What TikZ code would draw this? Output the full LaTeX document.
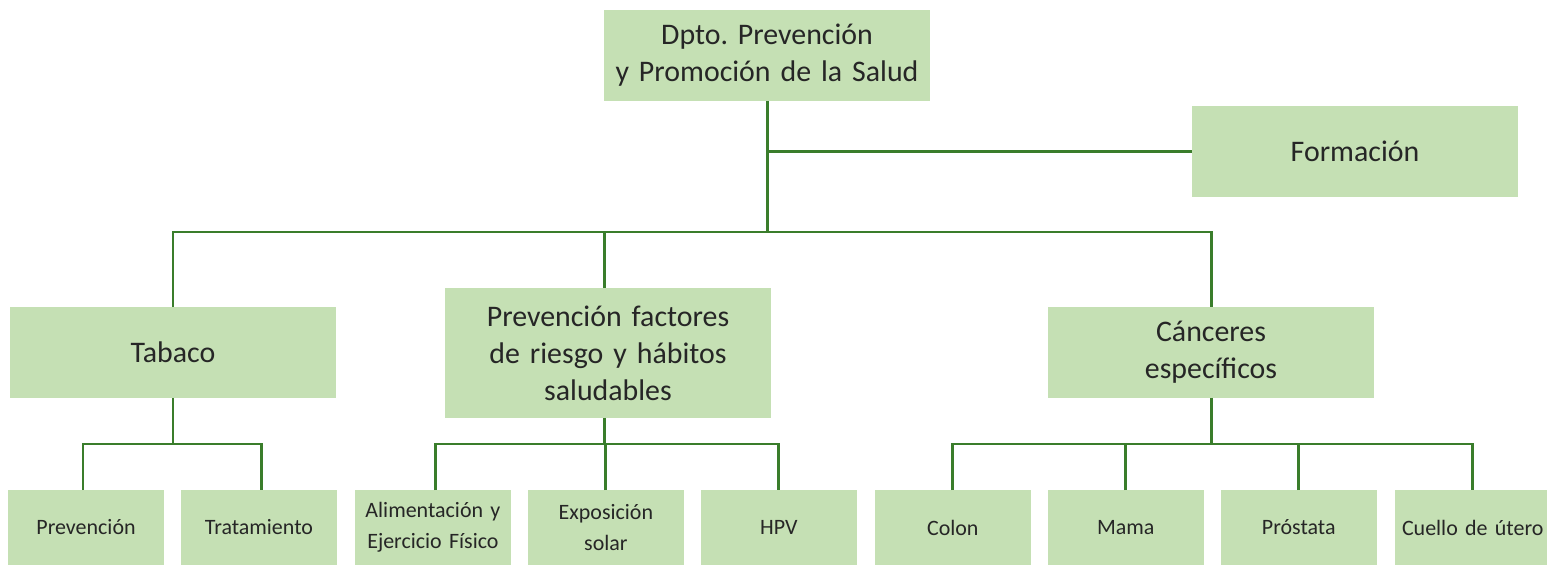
\documentclass[tikz,border=0pt]{standalone}
\usepackage{fontspec}
\setmainfont{Carlito}
\usetikzlibrary{positioning}
\definecolor{boxgreen}{HTML}{C5E0B4}
\definecolor{linegreen}{HTML}{3A7D2B}
\definecolor{textgray}{HTML}{262626}
\tikzset{
    % big boxes of the upper levels
    area/.style={
           rectangle,
           fill=boxgreen,
           text=textgray,
           outer sep=0pt,
           inner xsep=0pt,
           minimum width=6.52cm,
           minimum height=1.82cm,
           text width=6.52cm,
           align=center,
           font=\fontsize{17}{21}\selectfont},
    % small boxes of the bottom row
    unit/.style={
           rectangle,
           fill=boxgreen,
           text=textgray,
           outer sep=0pt,
           inner xsep=0pt,
           minimum width=3.12cm,
           minimum height=1.5cm,
           text width=3.12cm,
           align=center,
           font=\fontsize{12.5}{17.5}\selectfont},
    % connector lines
    link/.style={
           draw=linegreen,
           line width=1.7pt}
}
\frenchspacing
\begin{document}
\begin{tikzpicture}[x=0.02cm, y=-0.02cm]
    \useasboundingbox (0,0) rectangle (1547,565);
    % upper levels
    \node[area] (dpto) at (767,55.5) {Dpto. Prevención\\y Promoción de la Salud};
    \node[area] (formacion) at (1355,151.5) {Formación};
    \node[area] (tabaco) at (173,352.5) {Tabaco};
    \node[area, minimum height=2.6cm] (factores) at (608,353)
        {Prevención factores\\de riesgo y hábitos\\saludables};
    \node[area] (canceres) at (1211,352.5) {Cánceres\\específicos};
    % bottom row
    \node[unit] (prevencion) at (86,527.5) {Prevención};
    \node[unit, right=0.34cm of prevencion] (tratamiento) {Tratamiento};
    \node[unit, right=0.36cm of tratamiento] (alimentacion) {Alimentación y\\Ejercicio Físico};
    \node[unit, right=0.34cm of alimentacion] (exposicion) {Exposición\\solar};
    \node[unit, right=0.34cm of exposicion] (hpv) {HPV};
    \node[unit, right=0.36cm of hpv] (colon) {Colon};
    \node[unit, right=0.34cm of colon] (mama) {Mama};
    \node[unit, right=0.34cm of mama] (prostata) {Próstata};
    \node[unit, right=0.36cm of prostata] (cuello) {Cuello de útero};
    % connectors
    \coordinate (bus) at (766,232);
    \draw[link] (dpto.south) -- (dpto.south |- bus);
    \draw[link] (dpto.south |- formacion.west) -- (formacion.west);
    \draw[link] (tabaco.north) |- (bus) -| (canceres.north);
    \draw[link] (factores.north) ++(-4,0) -- ++(0,-56);
    \draw[link] (tabaco.south) -- ++(0,46) coordinate (tabbus);
    \draw[link] (prevencion.north) ++(-3,0) |- (tabbus) -| ([xshift=0.06cm]tratamiento.north);
    \draw[link] (factores.south) ++(-4,0) -- ++(0,26) coordinate (facbus);
    \draw[link] (alimentacion.north) ++(3,0) |- (facbus) -| (hpv.north);
    \draw[link] (exposicion.north) -- (exposicion.north |- facbus);
    \draw[link] (canceres.south) -- ++(0,46) coordinate (canbus);
    \draw[link] (colon.north) |- (canbus) -| (cuello.north);
    \draw[link] (mama.north) -- (mama.north |- canbus);
    \draw[link] (prostata.north) -- (prostata.north |- canbus);
\end{tikzpicture}
\end{document}
